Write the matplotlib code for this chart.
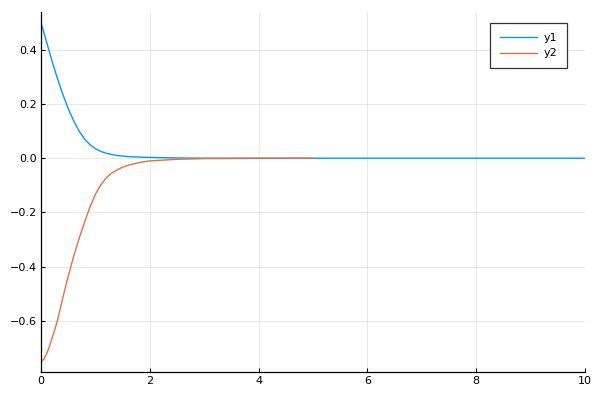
import matplotlib
matplotlib.use("Agg")
import matplotlib.pyplot as plt

# values
t1 = [0, 0.1, 0.2, 0.3, 0.4, 0.5, 0.6, 0.7, 0.8, 0.9, 1.0, 1.1, 1.2, 1.4, 1.6,
      1.8, 2.0, 2.5, 3.0, 4.0, 5.0, 6.0, 7.0, 8.0, 9.0, 10.0]
y1 = [0.500, 0.430, 0.360, 0.295, 0.236, 0.183, 0.138, 0.100, 0.071, 0.050,
      0.035, 0.025, 0.018, 0.010, 0.006, 0.004, 0.003, 0.001, 0.0, 0.0, 0.0,
      0.0, 0.0, 0.0, 0.0, 0.0]

t2 = [0, 0.05, 0.1, 0.15, 0.2, 0.25, 0.3, 0.35, 0.4, 0.5, 0.6, 0.7, 0.8, 0.9,
      1.0, 1.1, 1.2, 1.3, 1.4, 1.5, 1.6, 1.8, 2.0, 2.5, 3.0, 4.0, 5.0]
y2 = [-0.750, -0.742, -0.722, -0.697, -0.665, -0.634, -0.600, -0.558, -0.515,
      -0.435, -0.362, -0.296, -0.236, -0.180, -0.133, -0.098, -0.072, -0.055,
      -0.043, -0.033, -0.026, -0.016, -0.010, -0.004, -0.0015, -0.0003, 0.0]

xticks = [0, 2, 4, 6, 8, 10]
yticks = [-0.6, -0.4, -0.2, 0.0, 0.2, 0.4]

fig = plt.figure(figsize=(5.98, 3.99), dpi=100)
ax = fig.add_axes([0.0686, 0.0684, 0.9096, 0.9003])

ax.plot(t1, y1, color="#009AFA", lw=1.0, label="y1")
ax.plot(t2, y2, color="#E36F47", lw=1.0, label="y2")

ax.set_xlim(0, 10)
ax.set_ylim(-0.7875, 0.5375)
ax.set_xticks(xticks)
ax.set_yticks(yticks)
ax.set_yticklabels([f"{v:.1f}".replace("-", "\u2212") for v in yticks])
ax.grid(True, color="black", alpha=0.1, lw=0.6)
ax.set_axisbelow(True)
for s in ("top", "right"):
    ax.spines[s].set_visible(False)
for s in ("left", "bottom"):
    ax.spines[s].set_linewidth(0.9)
ax.tick_params(direction="in", length=3, width=0.8, labelsize=8, pad=3)

leg = ax.legend(loc="upper right", bbox_to_anchor=(0.967, 0.971), fontsize=8,
                borderaxespad=0, fancybox=False, framealpha=1,
                edgecolor="#333333", handlelength=3.3, handletextpad=0.55,
                borderpad=0.9, labelspacing=0.5)
leg.get_frame().set_linewidth(0.9)

fig.savefig("out.png", dpi=100)
